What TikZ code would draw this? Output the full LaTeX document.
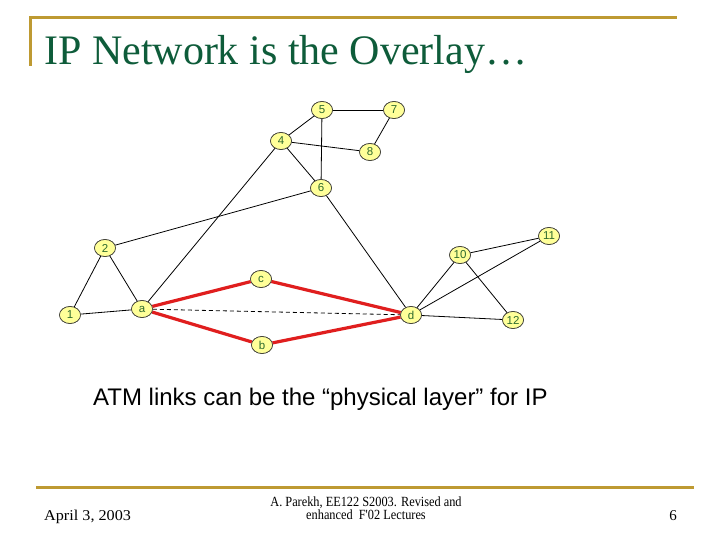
\documentclass[tikz,border=0pt]{standalone}
\usepackage{fontspec}
\setmainfont{Liberation Serif}
\newfontfamily\arialfont{Liberation Sans}
\newfontfamily\condserif[FakeStretch=0.88]{Liberation Serif}
\newfontfamily\wideserif[FakeStretch=1.08]{Liberation Serif}
\usetikzlibrary{shapes.geometric}
\definecolor{gold}{HTML}{BE9A32}
\definecolor{titlegreen}{HTML}{0E5C3A}
\definecolor{nodefill}{HTML}{FFFF99}
\definecolor{labelgreen}{HTML}{2E6B2E}
\definecolor{atmred}{HTML}{E01E1E}
\tikzset{
  rnode/.style={ellipse, draw=black!80, line width=0.6pt, fill=nodefill,
    minimum width=21pt, minimum height=17pt, inner sep=0pt,
    font=\arialfont\fontsize{11.5}{11.5}\selectfont, text=labelgreen},
  iplink/.style={draw=black, line width=0.8pt},
  atmlink/.style={draw=atmred, line width=3.2pt},
  dashlink/.style={draw=black, line width=0.8pt, dash pattern=on 4pt off 3pt},
  goldline/.style={draw=gold, line width=3pt},
}
\begin{document}
\begin{tikzpicture}[x=1pt,y=-1pt]
\useasboundingbox[fill=white] (0,0) rectangle (720,540);
% title frame
\draw[goldline] (29,18) -- (677,18);
\draw[goldline] (30,16.5) -- (30,66);
\node[anchor=base west, inner sep=0pt, text=titlegreen,
  font=\fontsize{42}{42}\selectfont] (title) at (44,65) {IP Network is the Overlay…};
% nodes
\node[rnode] (n5) at (322,110) {5};
\node[rnode] (n7) at (394,110) {7};
\node[rnode] (n4) at (281,141) {4};
\node[rnode] (n8) at (370,152) {8};
\node[rnode] (n6) at (321,188) {6};
\node[rnode] (n11) at (549,236) {11};
\node[rnode] (n2) at (105,248) {2};
\node[rnode] (n10) at (460,255) {10};
\node[rnode] (nc) at (261,279) {c};
\node[rnode] (n1) at (70,315) {1};
\node[rnode] (na) at (142,309) {a};
\node[rnode] (nd) at (411,315) {d};
\node[rnode] (n12) at (513,320) {12};
\node[rnode] (nb) at (262,345) {b};
% IP links
\path[iplink] (n5) -- (n7);
\path[iplink] (n5) -- (n4);
\path[iplink] (n5) -- (n6);
\path[iplink] (n4) -- (n8);
\path[iplink] (n7) -- (n8);
\path[iplink] (n4) -- (n6);
\path[iplink] (n4) -- (na);
\path[iplink] (n6) -- (n2);
\path[iplink] (n6) -- (nd);
\path[iplink] (n2) -- (n1);
\path[iplink] (n2) -- (na);
\path[iplink] (n1) -- (na);
\path[iplink] (n10) -- (n11);
\path[iplink] (n10) -- (nd);
\path[iplink] (n10) -- (n12);
\path[iplink] (n11) -- (nd);
\path[iplink] (nd) -- (n12);
% ATM links
\path[dashlink] (na) -- (nd);
\path[atmlink] (na) -- (nc);
\path[atmlink] (nc) -- (nd);
\path[atmlink] (na) -- (nb);
\path[atmlink] (nb) -- (nd);
% redraw nodes on top
\foreach \n/\t in {n5/5,n7/7,n4/4,n8/8,n6/6,n11/11,n2/2,n10/10,nc/c,n1/1,na/a,nd/d,n12/12,nb/b}
  \node[rnode] at (\n) {\t};
% caption
\node[anchor=base west, inner sep=0pt, font=\arialfont\fontsize{24}{24}\selectfont]
  (caption) at (93,405) {ATM links can be the “physical layer” for IP};
% footer
\draw[goldline] (36,487) -- (694,487);
\node[anchor=base west, inner sep=0pt, font=\wideserif\fontsize{15}{15}\selectfont] (date) at (44,520) {April 3, 2003};
\node[align=center, inner sep=0pt, font=\condserif\fontsize{14}{12.5}\selectfont, anchor=base] (credit) at (366,519)
  {A. Parekh, EE122 S2003. Revised and\\enhanced\ \ F'02 Lectures};
\node[anchor=base east, inner sep=0pt, font=\fontsize{15}{15}\selectfont] (page) at (677,520) {6};
\end{tikzpicture}
\end{document}
